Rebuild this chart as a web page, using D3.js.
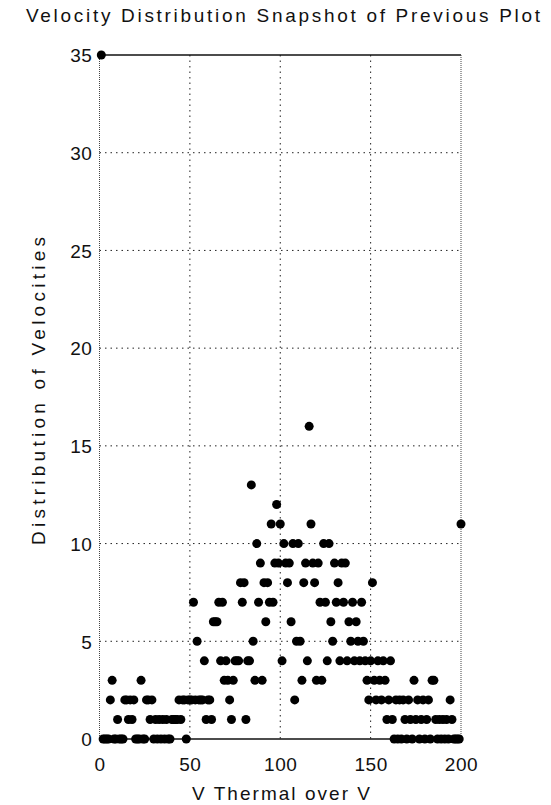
<!DOCTYPE html>
<html>
<head>
<meta charset="utf-8">
<script src="https://cdn.jsdelivr.net/npm/d3@7"></script>
<style>
  html, body { margin: 0; padding: 0; background: #fff; }
  svg text { font-family: "Liberation Sans", Arial, Helvetica, sans-serif; fill: #111; }
</style>
</head>
<body>
<svg id="chart" width="551" height="805"></svg>
<script>
// Velocity bins (V thermal over V), one count per bin
const velocityBins = d3.range(1, 201);
const counts = [
  35, 0, 0, 0, 0, 2, 3, 0, 0, 1,
   0, 0, 0, 2, 2, 1, 2, 1, 2, 0,
   0, 0, 3, 0, 0, 2, 2, 1, 2, 0,
   1, 0, 1, 0, 1, 0, 1, 0, 0, 1,
   1, 1, 1, 2, 1, 2, 2, 0, 2, 2,
   2, 7, 2, 5, 2, 2, 2, 4, 1, 2,
   2, 1, 6, 6, 6, 7, 4, 7, 3, 4,
   3, 2, 1, 3, 4, 4, 4, 8, 7, 8,
   1, 4, 4,13, 5, 3,10, 7, 9, 3,
   8, 6, 8, 7,11, 7, 9,12, 9,11,
   4,10, 9, 8, 9, 6,10, 2, 5,10,
   5, 3, 8, 9, 4,16,11, 9, 8, 3,
   9, 7, 3,10, 7, 4,10, 6, 5, 9,
   7, 8, 4, 9, 7, 9, 4, 6, 5, 7,
   4, 6, 5, 4, 7, 5, 4, 3, 2, 4,
   8, 3, 2, 4, 3, 2, 4, 3, 1, 2,
   4, 1, 0, 2, 0, 2, 0, 2, 1, 0,
   2, 1, 0, 3, 1, 2, 0, 1, 2, 0,
   1, 2, 0, 3, 3, 1, 0, 1, 0, 1,
   0, 1, 0, 2, 1, 0, 0, 0, 0,11
];
const xTicks = [0, 50, 100, 150, 200];
const yTicks = [0, 5, 10, 15, 20, 25, 30, 35];

const titleText = "Velocity Distribution Snapshot of Previous Plot";
const xLabel = "V Thermal over V";
const yLabel = "Distribution of Velocities";

const svg = d3.select("#chart");
const plot = { left: 99.5, right: 461, top: 55, bottom: 739 };

const x = d3.scaleLinear().domain([0, 200]).range([plot.left, plot.right]);
const y = d3.scaleLinear().domain([0, 35]).range([plot.bottom, plot.top]);

// dotted grid
const grid = svg.append("g")
  .attr("stroke", "#222")
  .attr("stroke-width", 1)
  .attr("stroke-dasharray", "1.5,4");
grid.selectAll("line.gx")
  .data(xTicks.filter(t => t > 0 && t < 200))
  .join("line")
  .attr("class", "gx")
  .attr("x1", d => x(d)).attr("x2", d => x(d))
  .attr("y1", plot.top).attr("y2", plot.bottom);
grid.selectAll("line.gy")
  .data(yTicks.filter(t => t > 0 && t < 35))
  .join("line")
  .attr("class", "gy")
  .attr("x1", plot.left).attr("x2", plot.right)
  .attr("y1", d => y(d)).attr("y2", d => y(d));

// frame: top/bottom solid, sides lighter
svg.append("line")
  .attr("x1", plot.left).attr("x2", plot.right)
  .attr("y1", plot.top).attr("y2", plot.top)
  .attr("stroke", "#111").attr("stroke-width", 1.3);
svg.append("line")
  .attr("x1", plot.left).attr("x2", plot.right)
  .attr("y1", plot.bottom).attr("y2", plot.bottom)
  .attr("stroke", "#111").attr("stroke-width", 1.3);
svg.selectAll("line.side")
  .data([plot.left, plot.right])
  .join("line")
  .attr("class", "side")
  .attr("x1", d => d).attr("x2", d => d)
  .attr("y1", plot.top).attr("y2", plot.bottom)
  .attr("stroke", "#444").attr("stroke-width", 1)
  .attr("stroke-dasharray", "1,1");

// axes (labels only; tick marks hidden)
const xAxis = d3.axisBottom(x).tickValues(xTicks).tickSize(0).tickPadding(0);
const gx = svg.append("g")
  .attr("transform", `translate(0,${plot.bottom})`)
  .call(xAxis);
gx.select(".domain").remove();
gx.selectAll("text")
  .attr("dy", null)
  .attr("y", 32)
  .style("font-size", "19px")
  .style("letter-spacing", "0.6px")
  .attr("fill", "#111");

const yAxis = d3.axisLeft(y).tickValues(yTicks).tickSize(0).tickPadding(0);
const gy = svg.append("g")
  .attr("transform", `translate(${plot.left},0)`)
  .call(yAxis);
gy.select(".domain").remove();
gy.selectAll("text")
  .attr("x", -7)
  .attr("dy", "0.36em")
  .style("font-size", "19px")
  .style("letter-spacing", "0.6px")
  .attr("fill", "#111");

// data points
svg.append("g")
  .selectAll("circle")
  .data(velocityBins.map((v, i) => ({ v, c: counts[i] })))
  .join("circle")
  .attr("cx", d => x(d.v))
  .attr("cy", d => y(d.c))
  .attr("r", 4.5)
  .attr("fill", "#000");

// titles
svg.append("text")
  .attr("x", 283).attr("y", 22)
  .attr("text-anchor", "middle")
  .attr("textLength", 514)
  .attr("lengthAdjust", "spacing")
  .style("font-size", "19px")
  .text(titleText);

svg.append("text")
  .attr("x", 281).attr("y", 800)
  .attr("text-anchor", "middle")
  .attr("textLength", 178)
  .attr("lengthAdjust", "spacing")
  .style("font-size", "19px")
  .text(xLabel);

svg.append("text")
  .attr("transform", "translate(45,391) rotate(-90)")
  .attr("text-anchor", "middle")
  .attr("textLength", 308)
  .attr("lengthAdjust", "spacing")
  .style("font-size", "19px")
  .text(yLabel);
</script>
</body>
</html>
